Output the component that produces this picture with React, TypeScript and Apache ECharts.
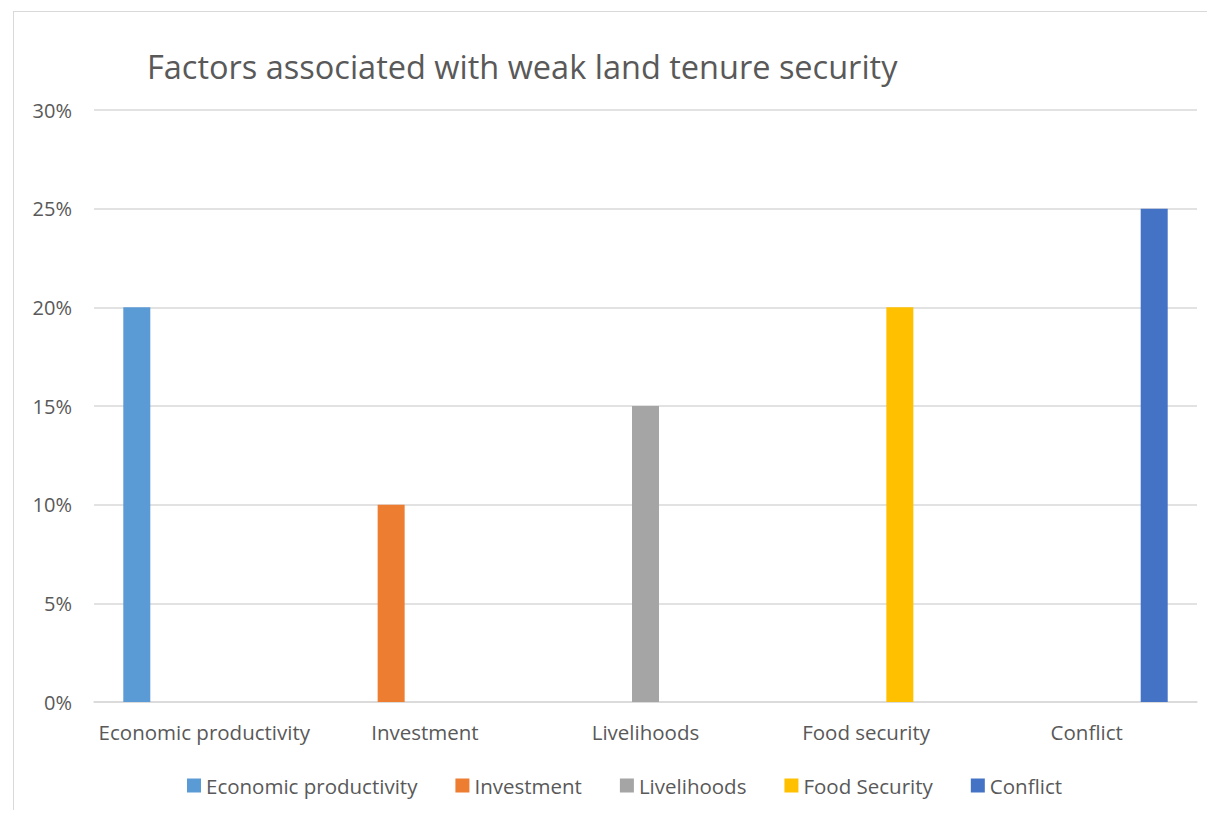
import React, { useEffect, useRef } from "react";
import * as echarts from "echarts";

const categories = ["Economic productivity", "Investment", "Livelihoods", "Food security", "Conflict"];
const seriesNames = ["Economic productivity", "Investment", "Livelihoods", "Food Security", "Conflict"];
const seriesValues: (number | null)[][] = [
  [20, null, null, null, null],
  [null, 10, null, null, null],
  [null, null, 15, null, null],
  [null, null, null, 20, null],
  [null, null, null, null, 25],
];
const colors = ["#5B9BD5", "#ED7D31", "#A5A5A5", "#FFC000", "#4472C4"];
const yTicks = { min: 0, max: 30, interval: 5 };

const FONT = "'Open Sans', 'Noto Sans', sans-serif";

export default function App() {
  const ref = useRef<HTMLDivElement>(null);
  useEffect(() => {
    if (!ref.current) return;
    const chart = echarts.init(ref.current, undefined, { renderer: "svg" });
    chart.setOption({
      animation: false,
      textStyle: { fontFamily: FONT, color: "#595959" },
      title: {
        text: "Factors associated with weak land tenure security",
        left: 134,
        top: 37,
        textStyle: { fontFamily: FONT, fontSize: 32.5, fontWeight: "normal", color: "#595959" },
      },
      graphic: [
        {
          type: "line",
          shape: { x1: 5, y1: 3.5, x2: 1207, y2: 3.5 },
          style: { stroke: "#D9D9D9", lineWidth: 1 },
          silent: true,
        },
        {
          type: "line",
          shape: { x1: 5.5, y1: 3, x2: 5.5, y2: 802 },
          style: { stroke: "#D9D9D9", lineWidth: 1 },
          silent: true,
        },
      ],
      legend: {
        bottom: 9,
        left: 174,
        itemWidth: 14,
        itemHeight: 14,
        itemGap: 38,
        icon: "rect",
        textStyle: { fontFamily: FONT, fontSize: 20.5, color: "#595959" },
        data: seriesNames,
      },
      grid: { left: 86, right: 18, top: 102, bottom: 108, containLabel: false },
      xAxis: {
        type: "category",
        data: categories,
        axisLine: { lineStyle: { color: "#D9D9D9", width: 1.5 } },
        axisTick: { show: false },
        axisLabel: { fontFamily: FONT, fontSize: 20.5, color: "#595959", margin: 19, interval: 0 },
      },
      yAxis: {
        type: "value",
        min: yTicks.min,
        max: yTicks.max,
        interval: yTicks.interval,
        axisLine: { show: false },
        axisTick: { show: false },
        splitLine: { lineStyle: { color: "#D9D9D9", width: 1.5 } },
        axisLabel: { fontFamily: FONT, fontSize: 20, color: "#595959", margin: 22, formatter: "{value}%" },
      },
      series: seriesNames.map((name, i) => ({
        name,
        type: "bar",
        data: seriesValues[i],
        barWidth: 27,
        barGap: "25%",
        itemStyle: { color: colors[i] },
      })),
    });
    return () => chart.dispose();
  }, []);
  return <div ref={ref} style={{ width: 1207, height: 802 }} />;
}
